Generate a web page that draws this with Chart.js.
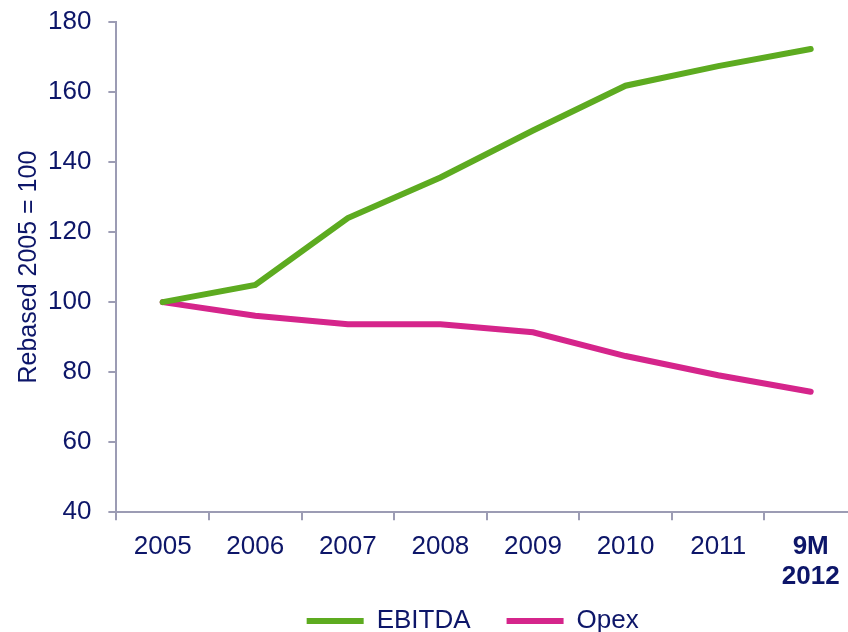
<!DOCTYPE html>
<html>
<head>
<meta charset="utf-8">
<script src="https://cdn.jsdelivr.net/npm/chart.js@4"></script>
<style>
  html, body { margin: 0; padding: 0; background: #fff; overflow: hidden; }
  #wrap { width: 860px; height: 632px; }
</style>
</head>
<body>
<div id="wrap"><canvas id="grafica" width="860" height="632"></canvas></div>
<script>
var anos = ['2005', '2006', '2007', '2008', '2009', '2010', '2011', ['9M', '2012']];
var ebitda = [100, 104.9, 124, 135.6, 149, 161.8, 167.4, 172.3];
var opex = [100, 96.1, 93.7, 93.7, 91.4, 84.6, 79.1, 74.4];
var ejeY = [40, 60, 80, 100, 120, 140, 160, 180];

var azul = '#0d1669';
var gris = '#9c9cb4';
var fuente = "'Liberation Sans', Arial, sans-serif";

// leyenda: alto fijo y se dibuja un poco más arriba y a la izquierda
var ajusteLeyenda = {
    id: 'ajusteLeyenda',
    beforeInit: function(chart){
        var leyenda = chart.legend;
        var fitOriginal = leyenda.fit;
        var drawOriginal = leyenda.draw;
        leyenda.fit = function(){
            fitOriginal.call(this);
            this.height = 28;
        };
        leyenda.draw = function(){
            var caja = { top: this.top, bottom: this.bottom, left: this.left, right: this.right };
            this.top = caja.top - 32;
            this.bottom = this.chart.height;
            this.left = caja.left - 14;
            this.right = caja.right - 14;
            drawOriginal.call(this);
            this.top = caja.top; this.bottom = caja.bottom;
            this.left = caja.left; this.right = caja.right;
        };
    }
};

new Chart(document.getElementById('grafica'), {
    type: 'line',
    data: {
        labels: anos,
        datasets: [
            {
                label: 'EBITDA',
                data: ebitda,
                borderColor: '#5dab20',
                backgroundColor: '#5dab20',
                borderWidth: 6,
                pointRadius: 0,
                borderCapStyle: 'round',
                tension: 0
            },
            {
                label: 'Opex',
                data: opex,
                borderColor: '#d5258b',
                backgroundColor: '#d5258b',
                borderWidth: 6,
                pointRadius: 0,
                borderCapStyle: 'round',
                tension: 0
            }
        ]
    },
    plugins: [ajusteLeyenda],
    options: {
        responsive: false,
        animation: false,
        layout: { padding: { left: 14, right: 3, top: 22, bottom: 0 } },
        plugins: {
            tooltip: { enabled: false },
            legend: {
                position: 'bottom',
                fullSize: false,
                labels: {
                    color: azul,
                    font: { family: fuente, size: 26 },
                    boxWidth: 57,
                    boxHeight: 6,
                    padding: 36,
                    generateLabels: function(chart){
                        var items = Chart.defaults.plugins.legend.labels.generateLabels(chart);
                        items.forEach(function(it){ it.lineWidth = 0; });
                        return items;
                    }
                }
            }
        },
        scales: {
            x: {
                offset: true,
                border: { color: gris, width: 2 },
                grid: { offset: true, drawOnChartArea: false, color: gris, lineWidth: 2, tickLength: 8 },
                ticks: {
                    color: azul,
                    padding: 12,
                    maxRotation: 0,
                    font: function(ctx){
                        return { family: fuente, size: 26, weight: ctx.index === anos.length - 1 ? 'bold' : 'normal', lineHeight: 1.15 };
                    }
                }
            },
            y: {
                min: ejeY[0],
                max: ejeY[ejeY.length - 1],
                border: { color: gris, width: 2 },
                grid: { drawOnChartArea: false, color: gris, lineWidth: 2, tickLength: 8 },
                afterBuildTicks: function(axis){
                    axis.ticks = ejeY.map(function(v){ return { value: v }; });
                },
                afterFit: function(axis){
                    axis.width -= 21;
                    axis.paddingTop = 0;
                    axis.paddingBottom = 0;
                },
                ticks: {
                    color: azul,
                    padding: 17,
                    font: { family: fuente, size: 26 }
                },
                title: {
                    display: true,
                    text: 'Rebased 2005 = 100',
                    color: azul,
                    font: { family: fuente, size: 25 },
                    padding: { top: 0, bottom: 8 }
                }
            }
        }
    }
});
</script>
</body>
</html>
